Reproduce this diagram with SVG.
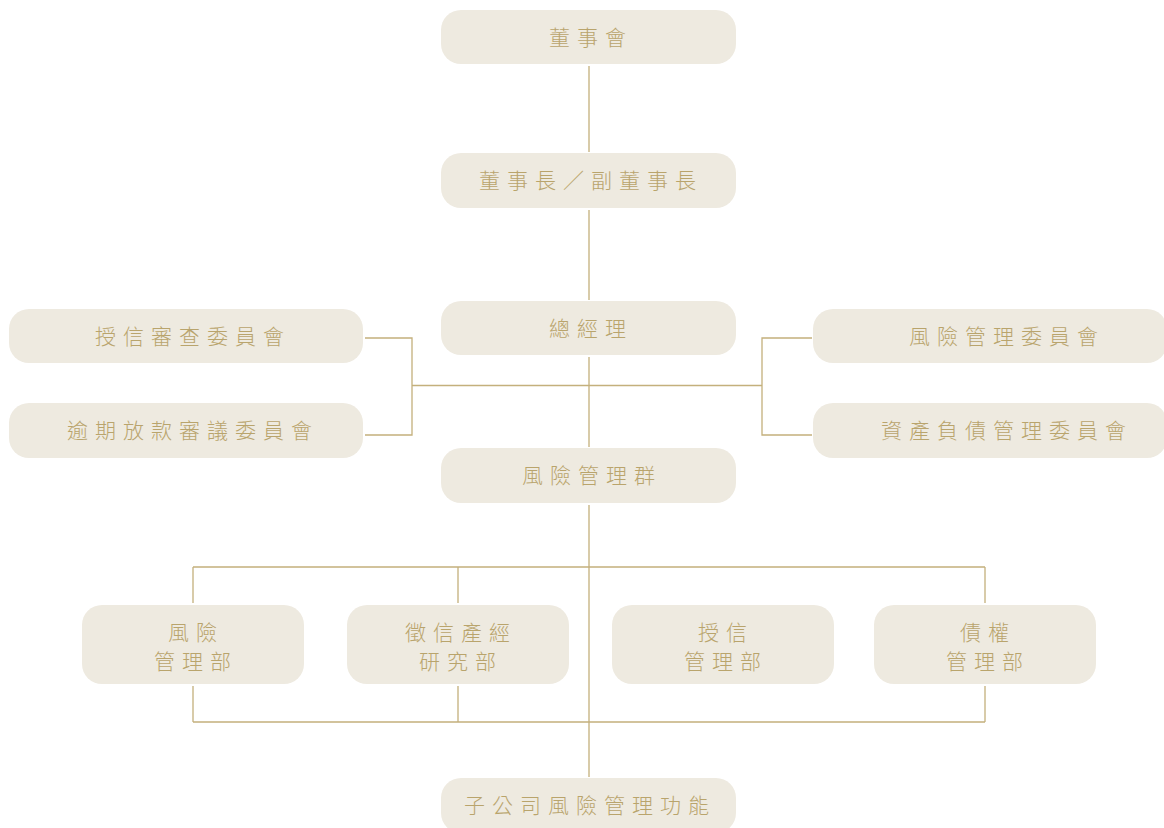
<svg xmlns="http://www.w3.org/2000/svg" width="1164" height="828" viewBox="0 0 1164 828">
<style>
.box{fill:#EEEAE0}
.t{font-family:"Noto Sans CJK TC","Noto Sans CJK SC",sans-serif;font-size:21px;font-weight:300;fill:#B9A46C;letter-spacing:7px;text-anchor:middle}
.c{fill:none;stroke:#C4B07C;stroke-width:1.3}
</style>
<rect width="1164" height="828" fill="#FFFFFF"/>
<g id="connectors">
<path class="c" d="M589,66V152M589,210V300M589,357V447M589,505V777"/>
<path class="c" d="M365,338H412V435H365M412,385.5H762M812,338H762V435H812"/>
<path class="c" d="M193,567H985M193,567V603M458,567V603M985,567V603"/>
<path class="c" d="M193,722H985M193,686V722M458,686V722M985,686V722"/>
</g>
<g id="board"><rect class="box" x="441" y="10" width="295" height="54" rx="20"/><text class="t" x="591" y="45">董事會</text></g>
<g id="chairman"><rect class="box" x="441" y="153" width="295" height="55" rx="20"/><text class="t" x="591" y="188">董事長／副董事長</text></g>
<g id="president"><rect class="box" x="441" y="301" width="295" height="54" rx="20"/><text class="t" x="591" y="336">總經理</text></g>
<g id="credit-review"><rect class="box" x="9" y="309" width="354" height="54" rx="20"/><text class="t" x="193" y="344">授信審查委員會</text></g>
<g id="overdue-review"><rect class="box" x="9" y="403" width="354" height="55" rx="20"/><text class="t" x="193" y="438">逾期放款審議委員會</text></g>
<g id="risk-committee"><rect class="box" x="813" y="309" width="354" height="54" rx="20"/><text class="t" x="1007" y="344">風險管理委員會</text></g>
<g id="alm-committee"><rect class="box" x="813" y="403" width="354" height="55" rx="20"/><text class="t" x="1007" y="438">資產負債管理委員會</text></g>
<g id="risk-group"><rect class="box" x="441" y="448" width="295" height="55" rx="20"/><text class="t" x="592" y="483">風險管理群</text></g>
<g id="risk-dept"><rect class="box" x="82" y="605" width="222" height="79" rx="20"/><text class="t" x="196" y="640">風險</text><text class="t" x="196" y="669">管理部</text></g>
<g id="credit-research-dept"><rect class="box" x="347" y="605" width="222" height="79" rx="20"/><text class="t" x="461" y="640">徵信產經</text><text class="t" x="461" y="669">研究部</text></g>
<g id="credit-dept"><rect class="box" x="612" y="605" width="222" height="79" rx="20"/><text class="t" x="726" y="640">授信</text><text class="t" x="726" y="669">管理部</text></g>
<g id="debt-dept"><rect class="box" x="874" y="605" width="222" height="79" rx="20"/><text class="t" x="988" y="640">債權</text><text class="t" x="988" y="669">管理部</text></g>
<g id="subsidiary-risk"><rect class="box" x="441" y="778" width="295" height="55" rx="20"/><text class="t" x="590" y="813">子公司風險管理功能</text></g>
</svg>
